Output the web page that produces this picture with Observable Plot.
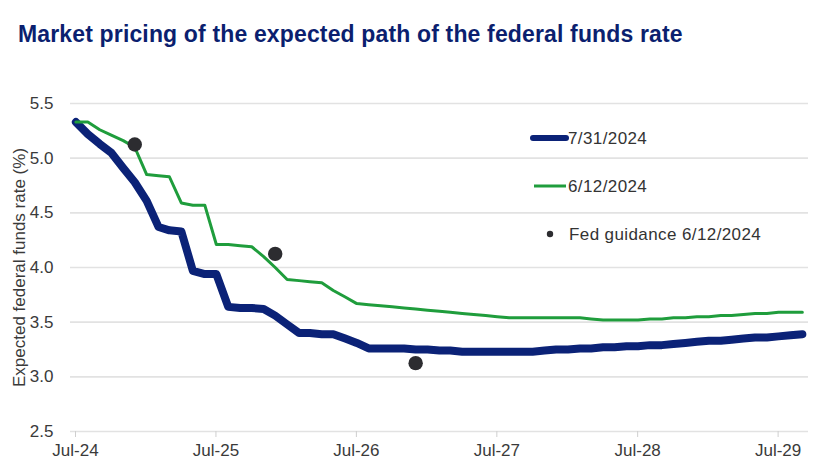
<!DOCTYPE html>
<html><head><meta charset="utf-8">
<script src="https://cdn.jsdelivr.net/npm/d3@7"></script>
<script src="https://cdn.jsdelivr.net/npm/@observablehq/plot@0.6"></script>
<style>
body{margin:0;background:#fff;width:840px;height:472px;overflow:hidden;position:relative;font-family:"Liberation Sans",Arial,sans-serif;}
#title{height:70px;box-sizing:border-box;padding:21px 0 0 18px;font-family:"Liberation Sans Narrow","Liberation Sans",sans-serif;font-weight:bold;font-size:23px;line-height:27px;color:#0b1f6f;letter-spacing:0.15px;white-space:nowrap;}
#legend{position:absolute;left:520px;top:110px;font-family:"Liberation Sans",Arial,sans-serif;font-size:17px;letter-spacing:0.4px;fill:#333;}
</style></head><body>
<div id="title">Market pricing of the expected path of the federal funds rate</div>
<div id="chart"></div>
<svg id="legend" width="290" height="150">
  <line x1="13" x2="46" y1="28" y2="28" stroke="#0b2277" stroke-width="6" stroke-linecap="round"/>
  <text x="48" y="28" dominant-baseline="central">7/31/2024</text>
  <line x1="14" x2="46" y1="76" y2="76" stroke="#1f9d3c" stroke-width="3"/>
  <text x="48" y="76" dominant-baseline="central">6/12/2024</text>
  <circle cx="30" cy="124" r="3.2" fill="#2c2c30"/>
  <text x="49" y="124" dominant-baseline="central">Fed guidance 6/12/2024</text>
</svg>
<script>
// Monthly observations starting mid-July 2024
const startMonth = "2024-07-15";
const series1Name = "7/31/2024";
const series1 = [5.33,5.22,5.13,5.05,4.91,4.78,4.61,4.37,4.34,4.33,3.97,3.94,3.94,3.64,3.63,3.63,3.62,3.56,3.48,3.40,3.40,3.39,3.39,3.35,3.31,3.26,3.26,3.26,3.26,3.25,3.25,3.24,3.24,3.23,3.23,3.23,3.23,3.23,3.23,3.23,3.24,3.25,3.25,3.26,3.26,3.27,3.27,3.28,3.28,3.29,3.29,3.30,3.31,3.32,3.33,3.33,3.34,3.35,3.36,3.36,3.37,3.38,3.39];
const series2Name = "6/12/2024";
const series2 = [5.33,5.33,5.26,5.21,5.16,5.10,4.85,4.84,4.83,4.59,4.57,4.57,4.21,4.21,4.20,4.19,4.10,4.00,3.89,3.88,3.87,3.86,3.79,3.73,3.67,3.66,3.65,3.64,3.63,3.62,3.61,3.60,3.59,3.58,3.57,3.56,3.55,3.54,3.54,3.54,3.54,3.54,3.54,3.54,3.53,3.52,3.52,3.52,3.52,3.53,3.53,3.54,3.54,3.55,3.55,3.56,3.56,3.57,3.58,3.58,3.59,3.59,3.59];
const guidanceDates = ["2024-12-15","2025-12-15","2026-12-15"];
const guidanceValues = [5.125, 4.125, 3.125];
const xTickDates = ["2024-07-01","2025-07-01","2026-07-01","2027-07-01","2028-07-01","2029-07-01"];
const yTicks = [2.5,3.0,3.5,4.0,4.5,5.0,5.5];

const start = new Date(startMonth);
const toRows = (vals, name) => vals.map((v, i) => ({date: d3.utcMonth.offset(start, i), value: v, series: name}));
const rows1 = toRows(series1, series1Name);
const rows2 = toRows(series2, series2Name);
const dots = guidanceDates.map((d, i) => ({date: new Date(d), value: guidanceValues[i]}));

const chart = Plot.plot({
  width: 840,
  height: 402,
  marginLeft: 70,
  marginRight: 32,
  marginTop: 33,
  marginBottom: 41,
  style: {fontFamily: "'Liberation Sans', Arial, sans-serif", fontSize: "17px", color: "#3a3a3a", background: "transparent"},
  x: {type: "utc", domain: [new Date("2024-07-01"), new Date("2029-10-01")]},
  y: {domain: [2.5, 5.5]},
  marks: [
    Plot.gridY(yTicks, {stroke: "#e2e2e2", strokeOpacity: 1, strokeWidth: 1.6}),
    Plot.axisY(yTicks, {tickSize: 0, tickPadding: 17, tickFormat: d3.format(".1f"),
      label: "Expected federal funds rate (%)", labelAnchor: "center", labelArrow: "none", labelOffset: 58, fontSize: 17}),
    Plot.axisX(xTickDates.map(d => new Date(d)), {tickSize: 6, tickPadding: 6, stroke: "#cfcfcf", tickFormat: d3.utcFormat("%b-%y"), label: null, dx: 5, fontSize: 17, letterSpacing: 0.3}),
    Plot.line(rows1, {x: "date", y: "value", stroke: "#0b2277", strokeWidth: 8, strokeLinejoin: "round", strokeLinecap: "round"}),
    Plot.line(rows2, {x: "date", y: "value", stroke: "#1f9d3c", strokeWidth: 3, strokeLinejoin: "round"}),
    Plot.dot(dots, {x: "date", y: "value", r: 7.2, fill: "#2c2c30"})
  ]
});
document.getElementById("chart").appendChild(chart);
</script>
</body></html>
